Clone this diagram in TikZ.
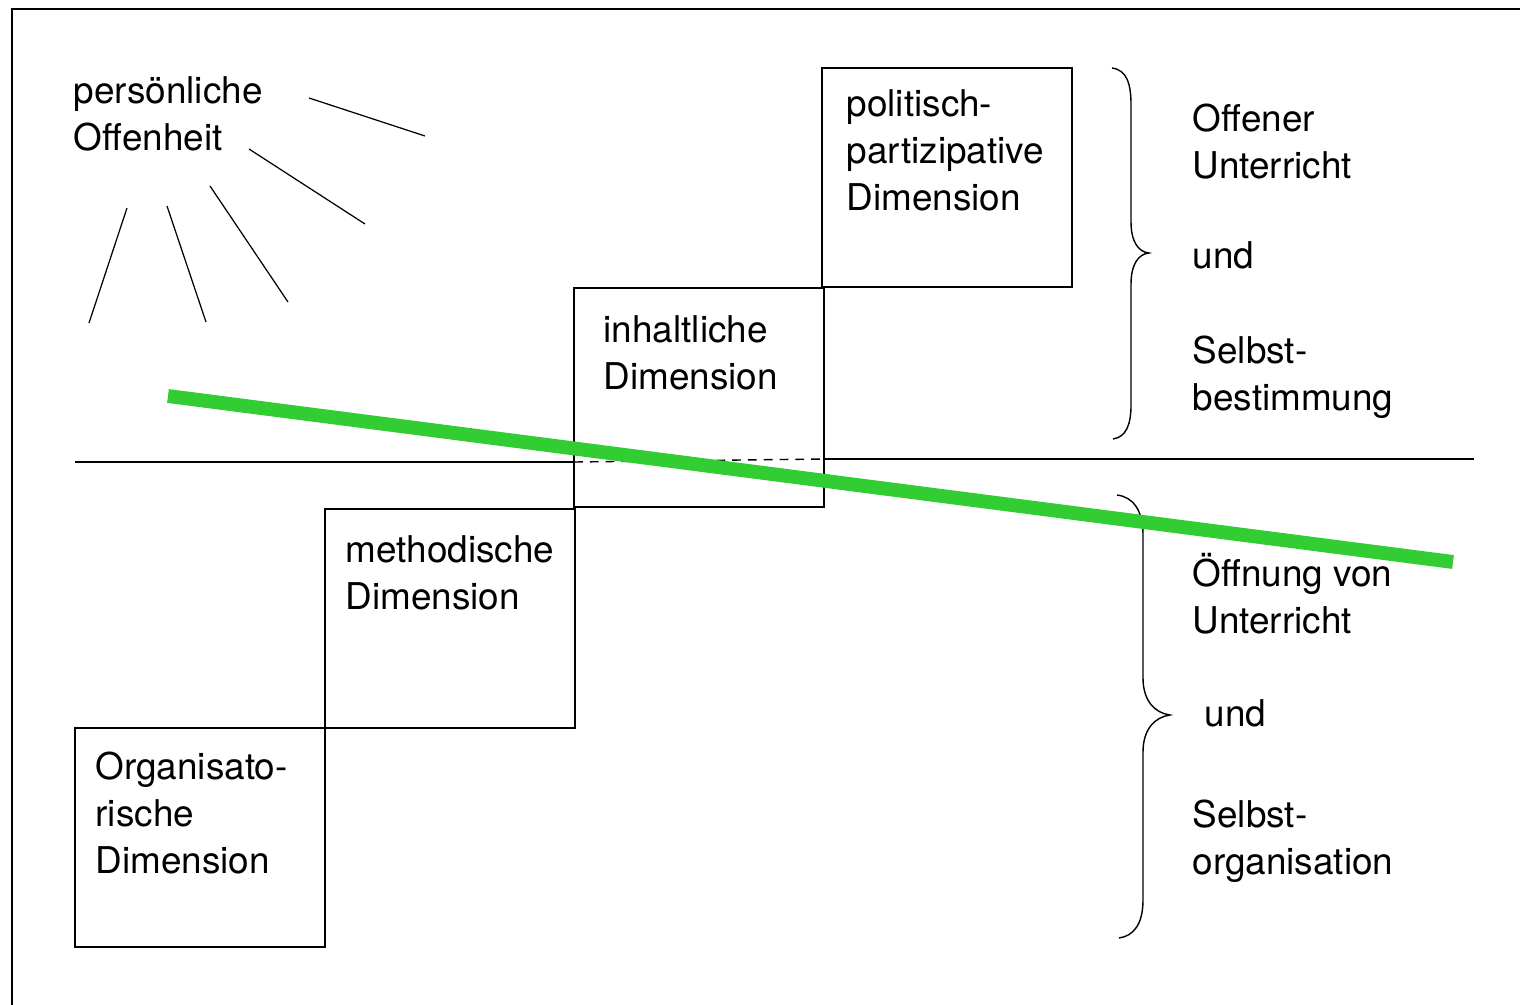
\documentclass[tikz,border=0pt]{standalone}
\usepackage{fontspec}
\setmainfont{TeX Gyre Heros}
\usetikzlibrary{positioning}

\definecolor{markgreen}{RGB}{50,205,50}

\begin{document}
\begin{tikzpicture}[x=0.02cm, y=-0.02cm, line width=0.8pt,
dimbox/.style ={draw, anchor=north west, inner sep=0pt, outer sep=0pt, minimum width=5cm, minimum height=4.38cm},
txt/.style ={anchor=north west, inner sep=0pt, align=left, yshift=18.69pt, font=\fontsize{21}{26.7}\selectfont},
ray/.style ={line width=0.7pt}]
\useasboundingbox (0,0) rectangle (1520,1004);
\draw[line width=1.2pt] (1530,9) -- (12,9) -- (12,1010);

% Offenheit und Strahlen
\node[txt] (offenheit) at (73,103) {\strut pers\"onliche\\Offenheit};
\foreach \xa/\ya/\xb/\yb in {309/98/425/136, 249/149/365/224, 210/186/288/302, 167/206/206/322, 127/208/89/323}
  \draw[ray] (\xa,\ya) -- (\xb,\yb);

% Treppe der Dimensionen
\node[dimbox] (orgdim) at (75,728) {};
\node[dimbox] (methdim) at (325,509) {};
\node[dimbox] (inhdim) at (574,288) {};
\node[dimbox] (poldim) at (822,68) {};
\node[txt] (orgtxt) at (95,779) {\strut Organisato-\\rische\\Dimension};
\node[txt] (methtxt) at (345,562) {\strut methodische\\Dimension};
\node[txt] (inhtxt) at (603,342) {\strut inhaltliche\\Dimension};
\node[txt] (poltxt) at (846,116) {\strut politisch-\\partizipative\\Dimension};

% Trennlinie
\coordinate (hl) at (75,462);
\coordinate (hr) at (1474,459);
\draw (hl) -- (hl -| inhdim.west);
\draw[dashed, dash pattern=on 5pt off 4pt] (hl -| inhdim.west) -- (hr -| inhdim.east);
\draw (hr -| inhdim.east) -- (hr);

% Klammern
\draw (1112,68) .. controls (1127,70) and (1131,84) .. (1131,105) -- (1131,222)
  .. controls (1131,241) and (1138,252) .. (1149,253)
  .. controls (1138,254) and (1131,265) .. (1131,284) -- (1131,405)
  .. controls (1131,425) and (1126,437) .. (1113,439);
\draw (1117,495) .. controls (1133,497) and (1143,510) .. (1143,535) -- (1143,678)
  .. controls (1143,701) and (1155,713) .. (1170,715)
  .. controls (1155,717) and (1143,729) .. (1143,752) -- (1143,900)
  .. controls (1143,925) and (1133,936) .. (1119,938);

\node[txt] (obentxt) at (1192,131) {\strut Offener\\Unterricht};
\node[txt] (obenund) at (1192,268) {\strut und};
\node[txt] (obenselbst) at (1192,363) {\strut Selbst-\\bestimmung};
\node[txt] (untentxt) at (1192,585) {\strut \"Offnung von\\Unterricht};
\node[txt] (untenund) at (1204,726) {\strut und};
\node[txt] (untenselbst) at (1192,827) {\strut Selbst-\\organisation};

% gruene Linie
\coordinate (gl) at (168,396);
\coordinate (gr) at (1453,562);
\draw[markgreen, line width=7.9pt] (gl) -- (gr);
\end{tikzpicture}
\end{document}
